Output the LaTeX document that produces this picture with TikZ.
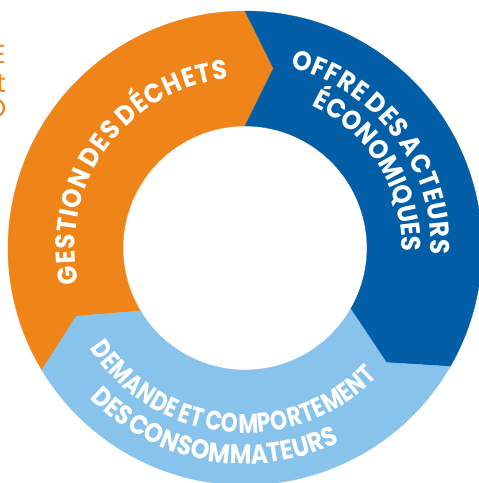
\documentclass[tikz,border=0pt]{standalone}
\usepackage{fontspec}
\newfontfamily\ringfont{Poppins}[WordSpace=0.5]
\usetikzlibrary{decorations.text}
\definecolor{orangeseg}{HTML}{EF8419}
\definecolor{blueseg}{HTML}{035EA8}
\definecolor{skyseg}{HTML}{87C3EA}

\begin{document}
\begin{tikzpicture}[x=1pt,y=1pt,
   ringtext/.style 2 args={decorate,decoration={text along path,text color=white,
      text align=fit to path,
      text={|\ringfont\bfseries\fontsize{27}{27}\selectfont\addfontfeature{FakeStretch=#1}|#2}}},
   edgeletter/.style={inner sep=0pt,anchor=base east,text=orangeseg,
      font=\ringfont\fontsize{26}{26}\selectfont}]
   \def\Rout{237}
   \def\Rin{122}
   \def\Rtip{182}
   \newcommand\Segment[3]{% colour, from angle, to angle (clockwise)
      \fill [#1,draw=#1,line width=.3pt]
         (#2:\Rout) arc [start angle=#2,end angle=#3,radius=\Rout]
         -- (#3-9:\Rtip) -- (#3:\Rin)
         arc [start angle=#3,end angle=#2,radius=\Rin]
         -- (#2-9:\Rtip) -- cycle;}
   \useasboundingbox (-245,-235) rectangle (234,248);
% Ring segments, each pointing clockwise into the next one
   \Segment{orangeseg}{211}{90}
   \Segment{blueseg}{90}{-30}
   \Segment{skyseg}{-30}{-149}
% Texts along the ring
   \path [ringtext={0.91}{GESTION DES DÉCHETS}]
        (192:170) arc [start angle=192,end angle=95.5,radius=170];
   \path [ringtext={0.91}{OFFRE DES ACTEURS}]
        (76:186) arc [start angle=76,end angle=-2,radius=186];
   \path [ringtext={0.9}{ÉCONOMIQUES}]
        (65:157) arc [start angle=65,end angle=-0.5,radius=157];
   \path [ringtext={0.8}{DEMANDE ET COMPORTEMENT}]
        (213:185) arc [start angle=213,end angle=316,radius=185];
   \path [ringtext={0.88}{DES CONSOMMATEURS}]
        (224:216) arc [start angle=224,end angle=296,radius=216];
% Letters cut off at the left edge
   \node [edgeletter] (cutE) at (-239,185) {E};
   \node [edgeletter] (cutT) at (-239,156) {t};
   \node [edgeletter] (cutO) at (-238.5,131) {O};
\end{tikzpicture}
\end{document}
